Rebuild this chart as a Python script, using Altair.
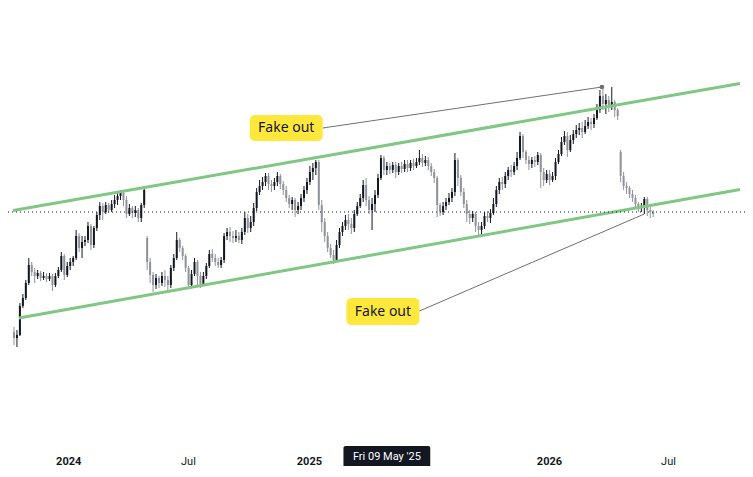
import altair as alt
import pandas as pd

# ---- candle values (price units), one candle every 4.5 days ----
opens = [128,122,125,154,162,177,195,188,184,187,
         182,184,181,184,175,184,190,204,185,194,
         198,202,224,212,218,220,234,215,232,245,
         254,248,255,250,256,260,264,267,260,246,
         252,247,250,242,255,222,198,185,175,182,
         177,184,180,175,192,202,220,212,204,192,
         175,186,198,184,176,184,194,206,202,198,
         195,200,224,228,224,222,224,220,228,242,
         232,238,252,268,274,278,284,276,274,278,
         284,276,270,262,256,260,250,254,262,270,
         278,288,292,298,255,238,224,212,205,200,
         215,228,234,240,236,232,246,254,262,275,
         260,250,256,265,282,302,290,294,290,295,
         288,294,291,296,292,297,294,298,302,297,
         300,294,288,282,255,248,254,258,262,268,
         300,282,268,256,246,242,246,234,230,234,
         244,242,247,256,270,278,276,284,290,288,
         294,302,324,308,300,296,300,298,305,288,
         280,286,280,284,298,306,318,324,310,320,
         326,330,332,328,334,338,336,342,350,364,
         356,360,354,358,350,308,284,274,272,266,
         262,256,252,254,261,250,248]
closes = [122,125,154,162,177,195,188,184,187,182,
          184,181,184,175,184,190,204,185,194,198,
          202,224,212,218,220,234,215,232,245,254,
          248,255,250,256,260,264,267,260,246,252,
          247,250,242,255,270,198,185,175,182,177,
          184,180,175,192,202,220,212,204,192,175,
          186,198,184,176,184,194,206,202,198,195,
          200,224,228,224,222,224,220,228,242,232,
          238,252,268,274,278,284,276,274,278,284,
          276,270,262,256,260,250,254,262,270,278,
          288,292,298,255,238,224,212,205,200,215,
          228,234,240,236,232,246,254,262,275,260,
          250,256,265,282,302,290,294,290,295,288,
          294,291,296,292,297,294,298,302,297,300,
          294,288,282,255,248,254,258,262,268,300,
          282,268,256,246,242,246,234,230,234,244,
          242,247,256,270,278,276,284,290,288,294,
          302,324,308,300,296,300,298,305,288,280,
          286,280,284,298,306,318,324,310,320,326,
          330,332,328,334,338,336,342,350,364,356,
          360,354,358,350,344,284,274,272,266,262,
          256,252,254,261,250,248,246]
highs = [133,130,157,166,180,202,198,192,190,189,
         188,187,187,186,187,193,208,206,198,202,
         204,230,227,224,224,238,236,234,248,258,
         257,258,257,260,265,268,270,270,264,256,
         254,254,252,257,273,224,202,188,186,184,
         188,190,184,195,206,228,222,214,206,194,
         190,202,200,188,188,197,210,211,206,202,
         203,227,232,233,229,230,228,232,248,246,
         244,257,272,280,283,287,287,280,282,288,
         286,279,274,265,263,262,258,266,274,282,
         294,297,300,300,260,242,228,216,210,220,
         232,238,245,246,242,250,258,266,280,282,
         264,262,270,286,305,304,298,297,298,298,
         297,298,300,300,300,301,302,310,306,304,
         303,297,291,284,257,258,262,267,272,307,
         302,285,272,260,250,249,248,238,238,248,
         249,251,262,274,282,283,288,293,295,298,
         308,328,326,310,304,303,304,308,307,292,
         290,290,288,302,310,323,329,328,325,330,
         335,337,338,340,343,342,346,356,370,373,
         366,364,373,360,352,310,288,278,274,270,
         265,258,257,263,263,254,250]
lows = [115,113,124,152,160,175,184,177,181,179,
        180,178,179,169,173,182,188,180,183,190,
        194,200,208,202,214,217,210,212,229,240,
        240,246,247,248,252,255,260,254,242,244,
        242,243,238,238,252,190,177,168,171,172,
        174,173,169,172,189,200,208,200,188,172,
        173,184,175,172,174,181,192,198,194,192,
        192,197,220,218,217,218,217,216,225,227,
        228,234,249,265,270,274,270,268,270,274,
        271,265,258,252,250,243,246,250,258,266,
        275,280,285,250,228,218,208,202,196,198,
        212,224,230,230,226,228,244,252,258,254,
        246,230,248,262,280,285,285,286,287,282,
        285,287,288,288,289,290,292,295,293,294,
        290,284,277,243,244,245,250,255,258,264,
        274,264,252,238,236,238,228,224,223,231,
        238,237,245,253,266,270,272,280,283,285,
        290,300,302,296,290,292,293,295,272,274,
        277,275,278,280,296,304,315,303,308,316,
        322,325,322,326,331,330,332,340,347,350,
        346,348,350,343,340,278,270,266,262,258,
        252,248,248,246,244,242,243]

# ---- drawings (days from view start, price) ----
channel_names = ["upper", "upper", "lower", "lower"]
channel_days = [0, 1105.5, 9, 1105.5]
channel_prices = [249.4, 376.6, 142, 270.6]
level_price = [248]
callout_names = ["top", "top", "bottom", "bottom"]
callout_days = [471, 895.5, 618, 960]
callout_prices = [332, 373, 149, 246]
anchor_days = [895.5]
anchor_prices = [373]
label_texts = ["Fake out", "Fake out"]
label_day_from = [360, 507]
label_day_to = [471, 618]
label_price_lo = [319, 135]
label_price_hi = [345, 162]
cross_text = ["Fri 09 May '25"]
cross_day_from = [502.5]
cross_day_to = [634.5]
cross_price_lo = [-9]
cross_price_hi = [14]
tick_dates = ["2024-01-01", "2024-07-01", "2025-01-01", "2026-01-01", "2026-07-01"]

DAY = 86400000
START = pd.Timestamp("2023-10-09", tz="UTC")
T0 = int(START.timestamp() * 1000)
T_END = T0 + int(1105.5 * DAY)


def ms(days):
    return T0 + int(days * DAY)


times = [int(t.timestamp() * 1000) for t in
         pd.date_range(START + pd.Timedelta(hours=36), periods=len(opens), freq="108h")]
candles = pd.DataFrame({"t": times, "o": opens, "h": highs, "l": lows, "c": closes})

UP = "#131722"
DOWN = "#8f929b"
GREEN = "#81c784"
FONT = "Roboto"

xs = alt.Scale(type="utc", domain=[T0, T_END], nice=False)
ys = alt.Scale(domain=[12, 452], nice=False, zero=False)
tick_values = [int(pd.Timestamp(d, tz="UTC").timestamp() * 1000) for d in tick_dates]
x_axis = alt.Axis(
    values=tick_values,
    labelExpr="utcmonth(datum.value) == 0 ? utcFormat(datum.value, '%Y') : utcFormat(datum.value, '%b')",
    labelFontWeight={"condition": {"test": "utcmonth(datum.value) == 0", "value": "bold"}, "value": "normal"},
    ticks=False, tickSize=0, domain=False, grid=False,
    labelPadding=13, labelBaseline="middle", labelFontSize=11,
    labelColor="#131722", labelFont=FONT, labelFlush=False, labelOverlap=False,
    title=None,
)
X = alt.X("t:T", scale=xs, axis=x_axis)

color = alt.condition("datum.c >= datum.o", alt.value(UP), alt.value(DOWN))
base = alt.Chart(candles)
wicks = base.mark_rule(strokeWidth=1).encode(
    x=X, y=alt.Y("l:Q", scale=ys, axis=None), y2="h:Q", color=color)
bodies = base.mark_bar(width=2).encode(
    x=X, y=alt.Y("o:Q", scale=ys, axis=None), y2="c:Q", color=color)

chan_df = pd.DataFrame({"name": channel_names, "t": [ms(d) for d in channel_days], "p": channel_prices})
channels = alt.Chart(chan_df).mark_line(color=GREEN, strokeWidth=3).encode(
    x=X, y=alt.Y("p:Q", scale=ys, axis=None), detail="name:N")

level = alt.Chart(pd.DataFrame({"p": level_price})).mark_rule(
    color="#131722", strokeDash=[1, 3], strokeWidth=1).encode(
    y=alt.Y("p:Q", scale=ys, axis=None))

call_df = pd.DataFrame({"name": callout_names, "t": [ms(d) for d in callout_days], "p": callout_prices})
callouts = alt.Chart(call_df).mark_line(color="#707070", strokeWidth=1).encode(
    x=X, y=alt.Y("p:Q", scale=ys, axis=None), detail="name:N")

anchor_df = pd.DataFrame({"t": [ms(d) for d in anchor_days], "p": anchor_prices})
anchor = alt.Chart(anchor_df).mark_point(filled=True, size=22, color="#707070", opacity=1).encode(
    x=X, y=alt.Y("p:Q", scale=ys, axis=None))

lab_df = pd.DataFrame({
    "text": label_texts,
    "t": [ms(d) for d in label_day_from], "t2": [ms(d) for d in label_day_to],
    "p": label_price_lo, "p2": label_price_hi,
    "tm": [ms((a + b) / 2) for a, b in zip(label_day_from, label_day_to)],
    "pm": [(a + b) / 2 for a, b in zip(label_price_lo, label_price_hi)],
})
boxes = alt.Chart(lab_df).mark_rect(color="#ffe83b", cornerRadius=5).encode(
    x=X, x2="t2:T", y=alt.Y("p:Q", scale=ys, axis=None), y2="p2:Q")
texts = alt.Chart(lab_df).mark_text(font="Noto Sans", fontSize=14, color="#131722").encode(
    x=alt.X("tm:T", scale=xs, axis=x_axis), y=alt.Y("pm:Q", scale=ys, axis=None), text="text:N")

cross_df = pd.DataFrame({
    "text": cross_text,
    "t": [ms(d) for d in cross_day_from], "t2": [ms(d) for d in cross_day_to],
    "p": cross_price_lo, "p2": cross_price_hi,
    "tm": [ms((a + b) / 2) for a, b in zip(cross_day_from, cross_day_to)],
    "pm": [3],
})
cross_box = alt.Chart(cross_df).mark_rect(color="#131722", cornerRadius=2).encode(
    x=X, x2="t2:T", y=alt.Y("p:Q", scale=ys, axis=None), y2="p2:Q")
cross_txt = alt.Chart(cross_df).mark_text(font=FONT, fontSize=11, color="#ffffff").encode(
    x=alt.X("tm:T", scale=xs, axis=x_axis), y=alt.Y("pm:Q", scale=ys, axis=None), text="text:N")

chart = alt.layer(
    wicks, bodies, channels, level, callouts, anchor, boxes, texts, cross_box, cross_txt
).properties(
    width=737, height=440,
    autosize=alt.AutoSizeParams(type="none"),
    padding={"left": 0, "top": 0, "right": 0, "bottom": 18},
    background="#ffffff",
).configure_view(strokeWidth=0)

chart.save("out.html", embed_options={"renderer": "svg", "actions": False})
